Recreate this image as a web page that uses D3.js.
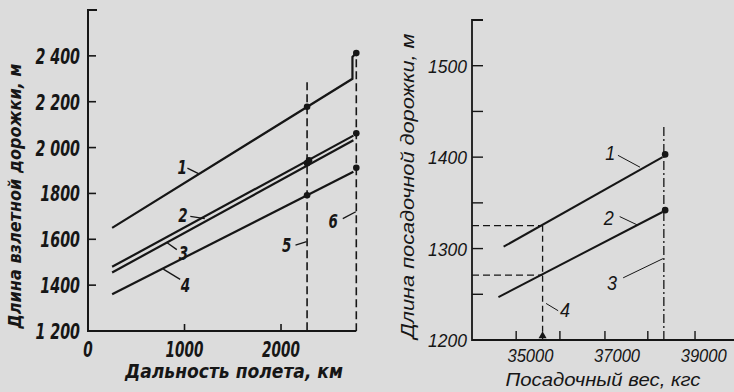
<!DOCTYPE html>
<html><head><meta charset="utf-8">
<script src="https://cdn.jsdelivr.net/npm/d3@7"></script>
<style>
body{margin:0;background:#dcdcdc;}
svg{display:block;}
text{font-style:italic;fill:#161616;}
.lf{font-family:"DejaVu Sans Condensed","DejaVu Sans",sans-serif;font-weight:bold;}
.rf{font-family:"Liberation Sans",Arial,sans-serif;}
</style>
</head><body>
<svg id="c" width="734" height="392"></svg>
<script>
// ---------- Left chart data (takeoff run length vs range) ----------
const leftYTicks = [1200, 1400, 1600, 1800, 2000, 2200, 2400];
const leftYTickLabels = ["1 200", "1400", "1600", "1800", "2 000", "2 200", "2 400"];
const leftXTicks = [0, 1000, 2000];
const leftXTickLabels = ["0", "1000", "2000"];
const leftLine1 = [[250, 1650], [2740, 2300], [2740, 2395], [2775, 2410]];
const leftLine2 = [[250, 1480], [2750, 2052]];
const leftLine3 = [[250, 1455], [2750, 2032]];
const leftLine4 = [[250, 1360], [2750, 1895]];
const leftMarkers = [[2270, 2178], [2270, 1932], [2290, 1945], [2270, 1792], [2780, 2412], [2780, 2062], [2780, 1912]];
const leftDashed = [[2270, 2285], [2780, 2385]];
const leftLabels = ["1", "2", "3", "4", "5", "6"];
const leftLabelPos = [[975, 1885], [985, 1675], [990, 1510], [1010, 1370], [2060, 1545], [2540, 1650]];
const leftLeaders = [[[1030, 1910], [1150, 1885]], [[1060, 1700], [1210, 1690]], [[820, 1585], [920, 1555]], [[780, 1470], [955, 1425]], [[2150, 1575], [2265, 1590]], [[2640, 1690], [2775, 1720]]];

// ---------- Right chart data (landing run length vs landing weight) ----------
const rightYTicks = [1200, 1250, 1300, 1350, 1400, 1450, 1500];
const rightYTickLabels = ["1200", "", "1300", "", "1400", "", "1500"];
const rightXTicks = [34670, 35680, 36720, 37710, 38800];
const rightXLabelVals = [35000, 37000, 39000];
const rightXLabels = ["35000", "37000", "39000"];
const rightLine1 = [[34380, 1302], [38050, 1400]];
const rightLine2 = [[34260, 1247], [38050, 1340]];
const rightMarkers = [[38110, 1403], [38110, 1342]];
const rightRefWeight = 35280;
const rightRefLengths = [1325, 1271];
const rightDashDot = [38080, 1433];
const rightLabels = ["1", "2", "3", "4"];
const rightLabelPos = [[36840, 1397], [36810, 1326], [36880, 1255], [35800, 1225]];
const rightLeaders = [[[37020, 1402], [37530, 1389]], [[37060, 1335], [37460, 1326]], [[37140, 1268], [38060, 1289]], [[35360, 1240], [35640, 1232]]];

const svg = d3.select("#c");
const ink = "#161616";

// ================= LEFT CHART =================
const xL = d3.scaleLinear().domain([0, 2780]).range([88, 356.3]);
const yL = d3.scaleLinear().domain([1200, 2600]).range([331, 10]);
const gL = svg.append("g");

gL.append("path").attr("d", `M${xL(0) + 9},${yL(2600)}H${xL(0)}V${yL(1200)}H${xL(2780)}`)
  .attr("fill", "none").attr("stroke", ink).attr("stroke-width", 2);
gL.selectAll(".yt").data(leftYTicks.slice(1)).join("line")
  .attr("x1", xL(0)).attr("x2", xL(0) + 8).attr("y1", d => yL(d)).attr("y2", d => yL(d))
  .attr("stroke", ink).attr("stroke-width", 1.6);
gL.selectAll(".ytl").data(leftYTicks).join("text").attr("class", "lf")
  .attr("transform", d => `translate(80,${yL(d) + 8}) scale(0.72,1)`).attr("text-anchor", "end")
  .attr("font-size", 22)
  .text((d, i) => leftYTickLabels[i]);
gL.selectAll(".xt").data(leftXTicks.slice(1)).join("line")
  .attr("x1", d => xL(d)).attr("x2", d => xL(d)).attr("y1", yL(1200)).attr("y2", yL(1200) - 7)
  .attr("stroke", ink).attr("stroke-width", 1.6);
gL.selectAll(".xtl").data(leftXTicks).join("text").attr("class", "lf")
  .attr("transform", d => `translate(${xL(d)},357) scale(0.72,1)`).attr("text-anchor", "middle")
  .attr("font-size", 21)
  .text((d, i) => leftXTickLabels[i]);

gL.append("text").attr("class", "lf").attr("transform", "translate(21,196) rotate(-90)")
  .attr("text-anchor", "middle").attr("font-size", 18)
  .attr("textLength", 265).attr("lengthAdjust", "spacingAndGlyphs")
  .text("Длина взлетной дорожки, м");
gL.append("text").attr("class", "lf").attr("x", 234).attr("y", 378)
  .attr("text-anchor", "middle").attr("font-size", 19)
  .attr("textLength", 218).attr("lengthAdjust", "spacingAndGlyphs")
  .text("Дальность полета, км");

gL.selectAll(".dl").data(leftDashed).join("line")
  .attr("x1", d => xL(d[0])).attr("x2", d => xL(d[0]))
  .attr("y1", d => yL(d[1])).attr("y2", yL(1200))
  .attr("stroke", ink).attr("stroke-width", 1.6).attr("stroke-dasharray", "8,4");

const lineL = d3.line().x(d => xL(d[0])).y(d => yL(d[1]));
[leftLine1, leftLine2, leftLine3, leftLine4].forEach(s => {
  gL.append("path").attr("d", lineL(s)).attr("fill", "none")
    .attr("stroke", ink).attr("stroke-width", 2.2);
});
gL.selectAll(".mk").data(leftMarkers).join("circle")
  .attr("cx", d => xL(d[0])).attr("cy", d => yL(d[1])).attr("r", 3.3).attr("fill", ink);

gL.selectAll(".lb").data(leftLabels).join("text").attr("class", "lf")
  .attr("transform", (d, i) => `translate(${xL(leftLabelPos[i][0])},${yL(leftLabelPos[i][1])}) scale(0.75,1)`)
  .attr("text-anchor", "middle").attr("font-size", 20)
  .text(d => d);
gL.selectAll(".ld").data(leftLeaders).join("line")
  .attr("x1", d => xL(d[0][0])).attr("y1", d => yL(d[0][1]))
  .attr("x2", d => xL(d[1][0])).attr("y2", d => yL(d[1][1]))
  .attr("stroke", ink).attr("stroke-width", 1.3);

// ================= RIGHT CHART =================
const xR = d3.scaleLinear().domain([33650, 39700]).range([472, 734]);
const yR = d3.scaleLinear().domain([1200, 1550]).range([340, 20]);
const gR = svg.append("g");

gR.append("path").attr("d", `M${xR(33650) + 11},${yR(1550)}H${xR(33650)}V${yR(1200)}H${xR(39700)}`)
  .attr("fill", "none").attr("stroke", ink).attr("stroke-width", 1.8);
gR.selectAll(".yt").data(rightYTicks.slice(1)).join("line")
  .attr("x1", xR(33650)).attr("x2", xR(33650) + 11).attr("y1", d => yR(d)).attr("y2", d => yR(d))
  .attr("stroke", ink).attr("stroke-width", 1.4);
gR.selectAll(".ytl").data(rightYTicks).join("text").attr("class", "rf")
  .attr("transform", d => `translate(467,${yR(d) + 7}) scale(0.92,1)`).attr("text-anchor", "end")
  .attr("font-size", 19)
  .text((d, i) => rightYTickLabels[i]);
gR.selectAll(".xt").data(rightXTicks).join("line")
  .attr("x1", d => xR(d)).attr("x2", d => xR(d)).attr("y1", yR(1200)).attr("y2", yR(1200) - 9)
  .attr("stroke", ink).attr("stroke-width", 1.4);
gR.selectAll(".xtl").data(rightXLabelVals).join("text").attr("class", "rf")
  .attr("transform", d => `translate(${xR(d)},362) scale(0.92,1)`).attr("text-anchor", "middle")
  .attr("font-size", 18)
  .text((d, i) => rightXLabels[i]);

gR.append("text").attr("class", "rf").attr("transform", "translate(414,186) rotate(-90)")
  .attr("text-anchor", "middle").attr("font-size", 18)
  .attr("textLength", 305).attr("lengthAdjust", "spacingAndGlyphs")
  .text("Длина посадочной дорожки, м");
gR.append("text").attr("class", "rf").attr("x", 603).attr("y", 386)
  .attr("text-anchor", "middle").attr("font-size", 18)
  .attr("textLength", 195).attr("lengthAdjust", "spacingAndGlyphs")
  .text("Посадочный вес, кгс");

gR.selectAll(".hd").data(rightRefLengths).join("line")
  .attr("x1", xR(33650)).attr("x2", xR(rightRefWeight))
  .attr("y1", d => yR(d)).attr("y2", d => yR(d))
  .attr("stroke", ink).attr("stroke-width", 1.3).attr("stroke-dasharray", "7,4");
gR.append("line").attr("x1", xR(rightRefWeight)).attr("x2", xR(rightRefWeight))
  .attr("y1", yR(rightRefLengths[0])).attr("y2", yR(1200))
  .attr("stroke", ink).attr("stroke-width", 1.3).attr("stroke-dasharray", "6,4");
gR.append("path").attr("d", d3.symbol(d3.symbolTriangle, 28)())
  .attr("transform", `translate(${xR(rightRefWeight)},${yR(1200) - 4})`).attr("fill", ink);
gR.append("line").attr("x1", xR(rightDashDot[0])).attr("x2", xR(rightDashDot[0]))
  .attr("y1", yR(rightDashDot[1])).attr("y2", yR(1200))
  .attr("stroke", ink).attr("stroke-width", 1.3).attr("stroke-dasharray", "9,3,2,3");

const lineR = d3.line().x(d => xR(d[0])).y(d => yR(d[1]));
[rightLine1, rightLine2].forEach(s => {
  gR.append("path").attr("d", lineR(s)).attr("fill", "none")
    .attr("stroke", ink).attr("stroke-width", 2);
});
gR.selectAll(".mk").data(rightMarkers).join("circle")
  .attr("cx", d => xR(d[0])).attr("cy", d => yR(d[1])).attr("r", 3.3).attr("fill", ink);

gR.selectAll(".lb").data(rightLabels).join("text").attr("class", "rf")
  .attr("transform", (d, i) => `translate(${xR(rightLabelPos[i][0])},${yR(rightLabelPos[i][1])}) scale(0.9,1)`)
  .attr("text-anchor", "middle").attr("font-size", 20)
  .text(d => d);
gR.selectAll(".ld").data(rightLeaders).join("line")
  .attr("x1", d => xR(d[0][0])).attr("y1", d => yR(d[0][1]))
  .attr("x2", d => xR(d[1][0])).attr("y2", d => yR(d[1][1]))
  .attr("stroke", ink).attr("stroke-width", 1);
</script>
</body></html>
